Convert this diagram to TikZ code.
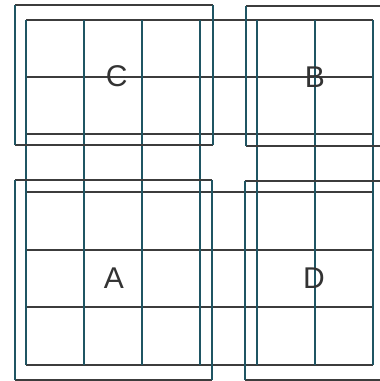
\documentclass[tikz,border=0pt]{standalone}
\usepackage{fontspec}
\setmainfont{Liberation Sans}
\usepackage{xcolor}
\definecolor{cTeal}{HTML}{1F5563}
\definecolor{cGray}{HTML}{3C3C3C}
\definecolor{cText}{HTML}{333333}
\usepackage{tikz}
\usetikzlibrary{positioning}
\tikzset{
  grid-v/.style={line width=1.8pt,draw=cTeal},
  grid-h/.style={line width=1.8pt,draw=cGray},
  frame-h/.style={line width=1.8pt,draw=cGray},
  frame-v/.style={line width=1.8pt,draw=cTeal},
  cell-label/.style={font=\fontsize{30}{30}\selectfont,text=cText,inner sep=0pt},
}

\begin{document}
\begin{tikzpicture}[x=1pt,y=-1pt]
  \clip (0,0) rectangle (380,381);
  \fill[white] (0,0) rectangle (380,381);
  % 6x6 grid
  \foreach \y in {20,77,134,192,250,307,365}
    \draw[grid-h] (26,\y) -- (373,\y);
  \foreach \x in {26,84,142,200,257,315,373}
    \draw[grid-v] (\x,20) -- (\x,365);
  % frames C, B, A, D (B and D run off the right edge)
  \foreach \l/\t/\r/\b in {15/5/213/145, 246/6/440/146,
                           15/180/212/380, 245/181/440/380} {
    \draw[frame-h] (\l,\t) -- (\r,\t) (\l,\b) -- (\r,\b);
    \draw[frame-v] (\l,\t) -- (\l,\b) (\r,\t) -- (\r,\b);
  }
  \node[cell-label] (C) at (116.7,76.5) {C};
  \node[cell-label] (B) at (315,77) {B};
  \node[cell-label] (A) at (114,277.8) {A};
  \node[cell-label] (D) at (314,277.8) {D};
\end{tikzpicture}
\end{document}
